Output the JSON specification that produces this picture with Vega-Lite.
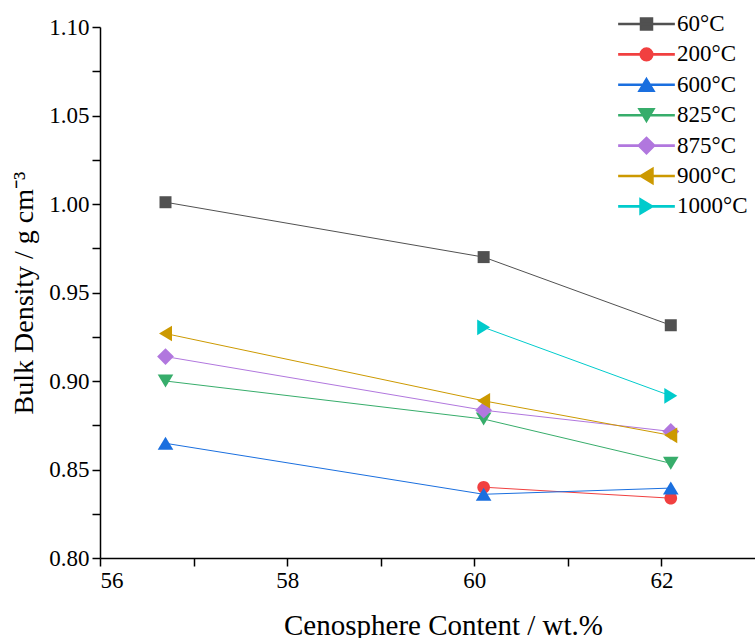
{
  "$schema": "https://vega.github.io/schema/vega-lite/v6.json",
  "width": 655,
  "height": 531,
  "autosize": {"type": "none"},
  "padding": {"left": 100, "top": 27, "right": 0, "bottom": 80},
  "background": "white",
  "config": {
    "view": {"stroke": null},
    "font": "Liberation Serif",
    "axis": {"grid": false, "domainColor": "black", "domainWidth": 1.5, "tickColor": "black", "tickWidth": 1.5, "tickSize": 8, "labelColor": "black", "titleColor": "black", "labelFont": "Liberation Serif", "titleFont": "Liberation Serif", "titleFontWeight": "normal", "labelFontSize": 23},
    "legend": {"labelFont": "Liberation Serif", "labelFontSize": 23}
  },
  "data": {"values": [
    {"series": "60°C", "marker": "60°C", "x": 56.7, "y": 1.001},
    {"series": "60°C", "marker": "60°C", "x": 60.1, "y": 0.970},
    {"series": "60°C", "marker": "60°C", "x": 62.1, "y": 0.9315},
    {"series": "200°C", "marker": "200°C", "x": 60.1, "y": 0.840},
    {"series": "200°C", "marker": "200°C", "x": 62.1, "y": 0.8338},
    {"series": "600°C", "marker": "600°C", "x": 56.7, "y": 0.8648},
    {"series": "600°C", "marker": "600°C", "x": 60.1, "y": 0.836},
    {"series": "600°C", "marker": "600°C", "x": 62.1, "y": 0.8395},
    {"series": "825°C", "marker": "825°C", "x": 56.7, "y": 0.900},
    {"series": "825°C", "marker": "825°C", "x": 60.1, "y": 0.8785},
    {"series": "825°C", "marker": "825°C", "x": 62.1, "y": 0.8535},
    {"series": "875°C", "marker": "875°C", "x": 56.7, "y": 0.9138},
    {"series": "875°C", "marker": "875°C", "x": 60.1, "y": 0.8835},
    {"series": "875°C", "marker": "875°C", "x": 62.1, "y": 0.8715},
    {"series": "900°C", "marker": "900°C", "x": 56.7, "y": 0.9268},
    {"series": "900°C", "marker": "900°C", "x": 60.1, "y": 0.8888},
    {"series": "900°C", "marker": "900°C", "x": 62.1, "y": 0.8693},
    {"series": "1000°C", "marker": "1000°C", "x": 60.1, "y": 0.9303},
    {"series": "1000°C", "marker": "1000°C", "x": 62.1, "y": 0.8916}
  ]},
  "encoding": {
    "x": {"field": "x", "type": "quantitative",
      "scale": {"domain": [56, 63], "nice": false, "zero": false},
      "axis": {"title": "Cenosphere Content / wt.%", "titleFontSize": 29, "titlePadding": 19, "titleX": 343, "labelFontSize": 23, "labelFont": "Liberation Serif", "labelPadding": 3, "tickSize": 8,
        "values": [56, 57, 58, 59, 60, 61, 62],
        "labelExpr": "datum.value % 2 === 0 ? format(datum.value, 'd') : ''",
        "encode": {"ticks": {"update": {"y2": {"signal": "datum.value % 2 === 0 ? 8 : 5"}}}}}},
    "y": {"field": "y", "type": "quantitative",
      "scale": {"domain": [0.8, 1.1], "nice": false, "zero": false},
      "axis": {"title": "Bulk Density / g cm⁻³", "titleFontSize": 28, "titlePadding": 10, "labelFontSize": 23, "labelFont": "Liberation Serif", "labelPadding": 3, "tickSize": 8,
        "values": [0.8, 0.825, 0.85, 0.875, 0.9, 0.925, 0.95, 0.975, 1.0, 1.025, 1.05, 1.075, 1.1],
        "labelExpr": "abs(datum.value*20 - round(datum.value*20)) < 0.01 ? format(datum.value, '.2f') : ''",
        "encode": {"ticks": {"update": {"x2": {"signal": "abs(datum.value*20 - round(datum.value*20)) < 0.01 ? -8 : -5"}}}}}},
    "color": {"field": "series", "type": "nominal",
      "scale": {"domain": ["60°C", "200°C", "600°C", "825°C", "875°C", "900°C", "1000°C"],
        "range": ["#515151", "#F14040", "#1A6FDF", "#37AD6B", "#B177DE", "#CC9900", "#00CBCC"]},
      "legend": {"title": null, "orient": "none", "legendX": 535, "legendY": -14.5, "padding": 0,
        "symbolSize": 144, "labelFontSize": 23, "labelFont": "Liberation Serif", "labelOffset": 19, "rowPadding": 6.4, "labelColor": "black",
        "encode": {"symbols": {"update": {
          "shape": {"signal": "datum.value === '60°C' ? 'M-4.6,-0.09H4.6V0.09H-4.6ZM-1,-1H1V1H-1Z' : datum.value === '200°C' ? 'M-4.6,-0.09H4.6V0.09H-4.6ZM-1.05,0A1.05,1.05,0,1,1,1.05,0A1.05,1.05,0,1,1,-1.05,0Z' : datum.value === '600°C' ? 'M-4.6,-0.09H4.6V0.09H-4.6ZM0,-1.08L1.3,1.08H-1.3Z' : datum.value === '825°C' ? 'M-4.6,-0.09H4.6V0.09H-4.6ZM0,1.08L1.3,-1.08H-1.3Z' : datum.value === '875°C' ? 'M-4.6,-0.09H4.6V0.09H-4.6ZM0,-1.4L1.4,0L0,1.4L-1.4,0Z' : datum.value === '900°C' ? 'M-4.6,-0.09H4.6V0.09H-4.6ZM-1.08,0L1.08,-1.3V1.3Z' : 'M-4.6,-0.09H4.6V0.09H-4.6ZM1.08,0L-1.08,-1.3V1.3Z'"},
          "opacity": {"value": 1}
        }}}}}
  },
  "layer": [
    {"mark": {"type": "line", "strokeWidth": 1}},
    {"mark": {"type": "point", "filled": true, "opacity": 1, "size": 144},
      "encoding": {"shape": {"field": "marker", "type": "nominal", "legend": null,
        "scale": {"domain": ["1000°C", "900°C", "875°C", "825°C", "600°C", "200°C", "60°C"],
          "range": ["M1.08,0L-1.08,-1.3V1.3Z", "M-1.08,0L1.08,-1.3V1.3Z", "M0,-1.4L1.4,0L0,1.4L-1.4,0Z", "M0,1.08L1.3,-1.08H-1.3Z", "M0,-1.08L1.3,1.08H-1.3Z", "M-1.05,0A1.05,1.05,0,1,1,1.05,0A1.05,1.05,0,1,1,-1.05,0Z", "M-1,-1H1V1H-1Z"]}}}}
  ]
}
